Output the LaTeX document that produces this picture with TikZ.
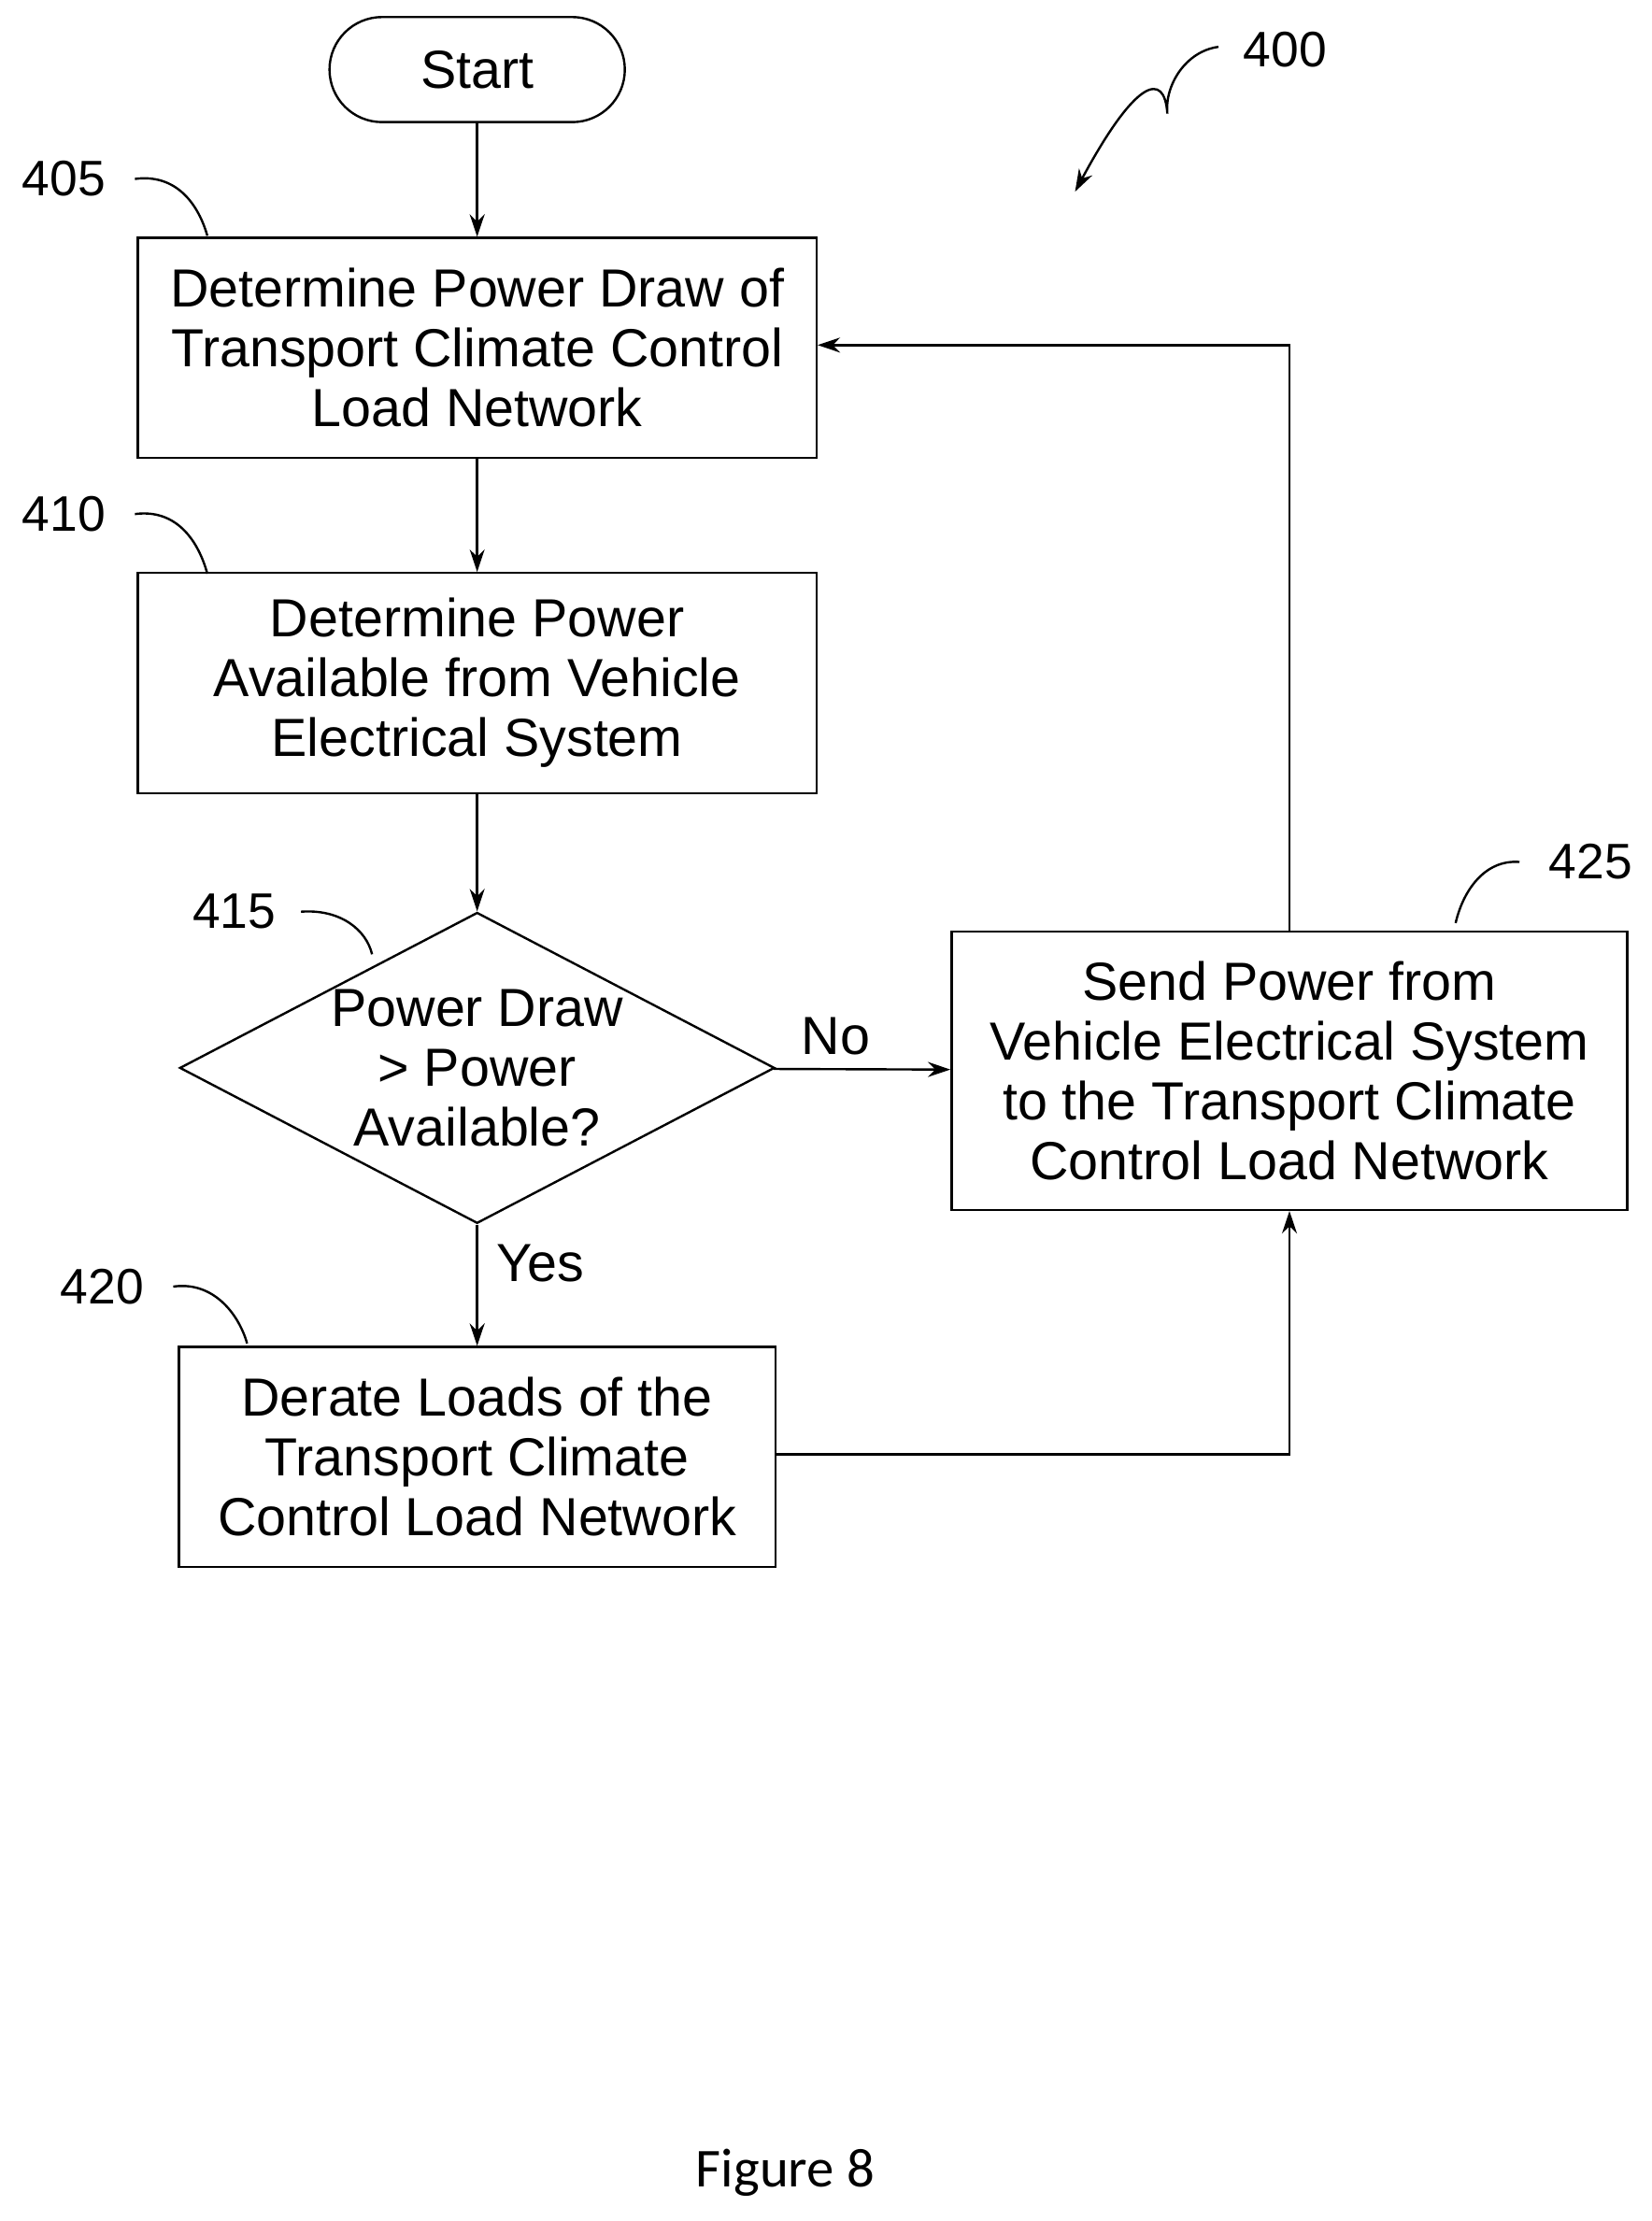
\documentclass[tikz,border=0pt]{standalone}
\usepackage{fontspec}
\setmainfont{Liberation Sans}
\newfontfamily\capfont{Carlito}
\usetikzlibrary{shapes.geometric,arrows.meta}
\begin{document}
\begin{tikzpicture}[x=0.02cm,y=-0.02cm,
                    font=\fontsize{21.5}{24}\selectfont,
                    line width=0.9pt, >={Stealth[length=9pt,width=6pt]},
                    block/.style={rectangle, draw, minimum width=9.56cm, minimum height=3.1cm, align=center, inner sep=1pt},
                    term/.style={rectangle, rounded corners=0.74cm, draw, minimum width=4.16cm, minimum height=1.48cm},
                    decision/.style={diamond, draw, aspect=1.91, minimum width=8.38cm, minimum height=4.38cm, inner sep=0pt, align=center},
                    refnum/.style={font=\fontsize{20}{22}\selectfont}]
  \useasboundingbox (0,0) rectangle (1163,1564);
  \node[term] (start) at (336,49) {Start};
  \node[block] (det) at (336,245) {Determine Power Draw of\\Transport Climate Control\\Load Network};
  \node[block] (avail) at (336,481) {Determine Power\\Available from Vehicle\\Electrical System};
  \node[decision] (cmp) at (336,752) {Power Draw\\> Power\\Available?};
  \node[block, minimum width=8.4cm] (derate) at (336,1026) {Derate Loads of the\\Transport Climate\\Control Load Network};
  \node[block, minimum width=9.52cm, minimum height=3.92cm] (send) at (908,754) {Send Power from\\Vehicle Electrical System\\to the Transport Climate\\Control Load Network};
  \coordinate (c1) at (908,243);
  \coordinate (c2) at (908,1024);
  \draw[->] (start) -- (det);
  \draw[->] (det) -- (avail);
  \draw[->] (avail) -- (cmp);
  \draw[->] (cmp) -- node[pos=0.05, below right, xshift=4pt, yshift=-2pt] {Yes} (derate);
  \draw[->] (cmp) -- node[pos=0.35, above, yshift=2pt] {No} (send);
  \draw[->] (send.north) -- (c1) -- (det.east |- c1);
  \draw[->] (derate.east |- c2) -- (c2) -- (send.south);
  % reference numerals
  \node[refnum] (n405) at (45,126) {405};
  \node[refnum] (n410) at (45,362) {410};
  \node[refnum] (n415) at (165,642) {415};
  \node[refnum] (n420) at (72,906) {420};
  \node[refnum] (n425) at (1120,607) {425};
  \node[refnum] (n400) at (905,35) {400};
  \draw (95,126) .. controls (125,122) and (140,145) .. (146,166);
  \draw (95,362) .. controls (125,358) and (140,382) .. (146,404);
  \draw (212,642) .. controls (240,640) and (258,655) .. (262,672);
  \draw (122,906) .. controls (150,902) and (168,925) .. (174,946);
  \draw (1070,607) .. controls (1045,605) and (1030,628) .. (1025,650);
  \draw[->] (858,33) .. controls (835,36) and (820,60) .. (822,80)
            .. controls (820,50) and (800,55) .. (757,135);
  \node[font=\capfont\fontsize{22}{24}\selectfont] (fig) at (553,1530) {Figure 8};
\end{tikzpicture}
\end{document}
